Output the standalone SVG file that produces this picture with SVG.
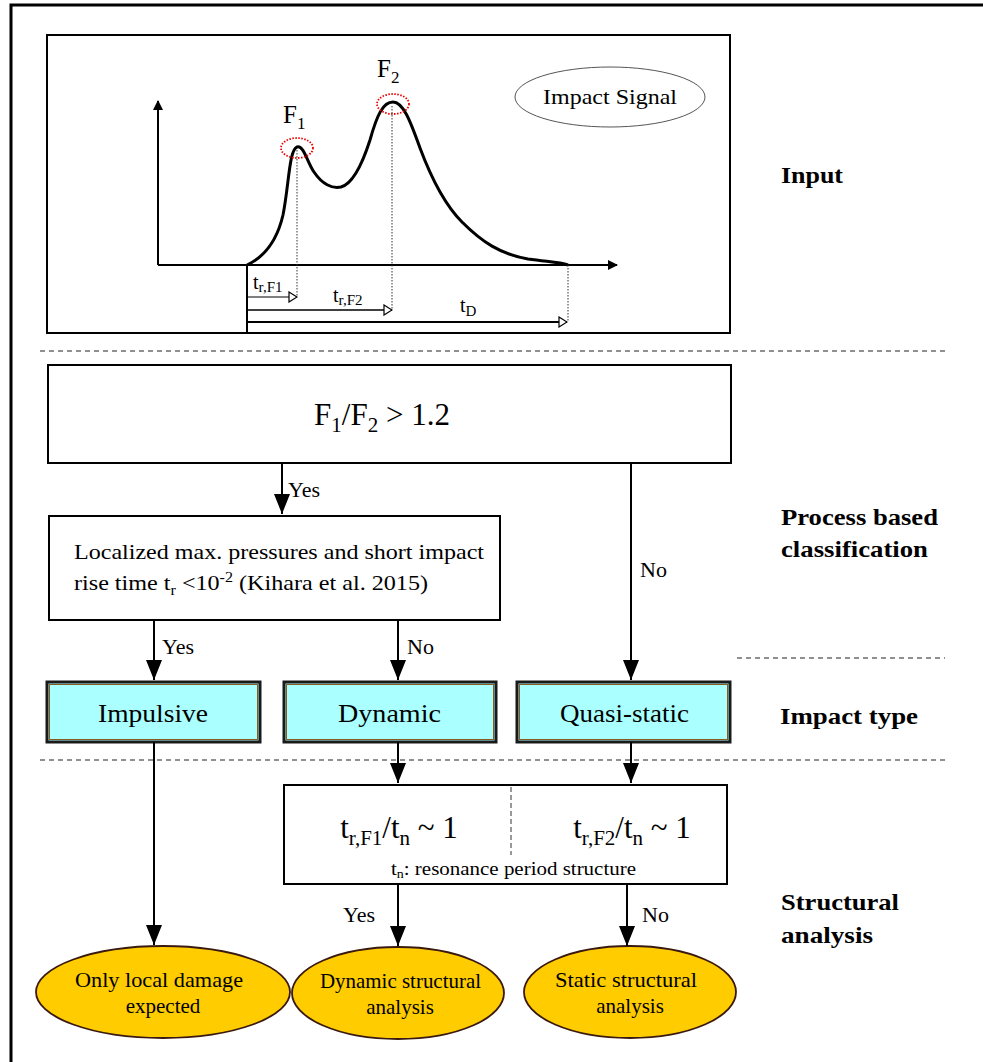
<svg xmlns="http://www.w3.org/2000/svg" width="983" height="1062" viewBox="0 0 983 1062" font-family="'Liberation Serif', 'Times New Roman', 'DejaVu Serif', serif">
<style>
text, tspan{font-family:'Liberation Serif', 'Times New Roman', 'DejaVu Serif', serif;fill:#000}
.box{fill:#fff;stroke:#000;stroke-width:2}
.type{fill:#aaffff;stroke:#1a1a1a;stroke-width:3}
.ell{fill:#ffcc00;stroke:#3a1a10;stroke-width:1.8}
.ln{stroke:#000;stroke-width:2;fill:none}
.dash{stroke:#222;stroke-width:1.2;stroke-dasharray:5,4;fill:none}
.dot{stroke:#333;stroke-width:1;stroke-dasharray:1.5,1.5;fill:none}
.lab{font-weight:bold;font-size:24px}
.yn{font-size:22px}
</style>
<defs>
<marker id="ah" markerWidth="10" markerHeight="10" refX="9" refY="5" orient="auto" markerUnits="userSpaceOnUse" viewBox="0 0 10 10"><path d="M0,0 L10,5 L0,10 z" fill="#000"/></marker>
<marker id="ahv" markerWidth="20" markerHeight="16" refX="20" refY="8" orient="auto" markerUnits="userSpaceOnUse" viewBox="0 0 20 16"><path d="M0,0 L20,8 L0,16 z" fill="#000"/></marker>
<marker id="hol" markerWidth="10" markerHeight="12" refX="9" refY="6" orient="auto" markerUnits="userSpaceOnUse" viewBox="0 0 10 12"><path d="M1,1 L9,6 L1,11 z" fill="#fff" stroke="#000" stroke-width="1.2"/></marker>
</defs>
<rect width="983" height="1062" fill="#fff"/>
<path d="M11,1062 V5 H983" fill="none" stroke="#000" stroke-width="3"/>

<g id="input">
<rect x="47" y="35" width="683" height="298" class="box"/>
<line x1="158" y1="265" x2="158" y2="101" class="ln" marker-end="url(#ah)"/>
<line x1="158" y1="265" x2="617" y2="265" class="ln" marker-end="url(#ah)"/>
<path d="M247,265 C262,258 276,245 283,215 C289,185 289,150 297,147 C304,145 307,162 314,172 C322,184 332,189 341,187 C352,184 362,165 370,140 C377,115 383,102 393,102 C403,102 410,120 420,148 C432,180 445,205 462,222 C482,242 500,254 528,259 C550,262 560,262 568,265" fill="none" stroke="#000" stroke-width="3"/>
<ellipse cx="297" cy="148" rx="16" ry="10" fill="none" stroke="#e00" stroke-width="1.8" stroke-dasharray="1.5,1.5"/>
<ellipse cx="393" cy="104" rx="16" ry="10" fill="none" stroke="#e00" stroke-width="1.8" stroke-dasharray="1.5,1.5"/>
<text x="283" y="123" font-size="25">F<tspan font-size="17" dy="6">1</tspan></text>
<text x="377" y="77" font-size="25">F<tspan font-size="17" dy="6">2</tspan></text>
<ellipse cx="610" cy="97" rx="95" ry="30" fill="#fff" stroke="#555" stroke-width="1"/>
<text x="543" y="104" font-size="22" textLength="134" lengthAdjust="spacingAndGlyphs">Impact Signal</text>
<line x1="297" y1="150" x2="297" y2="297" class="dot"/>
<line x1="392" y1="106" x2="392" y2="310" class="dot"/>
<line x1="568" y1="265" x2="568" y2="322" class="dot"/>
<line x1="247" y1="265" x2="247" y2="333" class="ln"/>
<line x1="247" y1="297" x2="297" y2="297" stroke="#000" stroke-width="1" marker-end="url(#hol)"/>
<line x1="247" y1="310" x2="392" y2="310" stroke="#000" stroke-width="1.3" marker-end="url(#hol)"/>
<line x1="247" y1="322" x2="567" y2="322" stroke="#000" stroke-width="2" marker-end="url(#hol)"/>
<text x="253" y="289" font-size="20">t<tspan font-size="15" dy="3">r,F1</tspan></text>
<text x="333" y="302" font-size="20">t<tspan font-size="15" dy="3">r,F2</tspan></text>
<text x="460" y="312" font-size="20">t<tspan font-size="15" dy="4">D</tspan></text>
</g>

<g id="separators">
<line x1="40" y1="351" x2="945" y2="351" class="dash"/>
<line x1="737" y1="658" x2="945" y2="658" class="dash"/>
<line x1="40" y1="760" x2="945" y2="760" class="dash"/>
</g>

<g id="ratio">
<rect x="48" y="365" width="683" height="98" class="box"/>
<text x="382" y="425" font-size="31" text-anchor="middle">F<tspan font-size="21" dy="7">1</tspan><tspan dy="-7">/F</tspan><tspan font-size="21" dy="7">2</tspan><tspan dy="-7"> &gt; 1.2</tspan></text>
</g>

<g id="localized">
<rect x="49" y="516" width="451" height="104" class="box"/>
<text x="74" y="559" font-size="21" textLength="410" lengthAdjust="spacingAndGlyphs">Localized max. pressures and short impact</text>
<text x="74" y="590" font-size="21" textLength="354" lengthAdjust="spacingAndGlyphs">rise time t<tspan font-size="14" dy="5">r</tspan><tspan dy="-5"> &lt;10</tspan><tspan font-size="14" dy="-8">-2</tspan><tspan dy="8"> (Kihara et al. 2015)</tspan></text>
</g>

<g id="impulsive">
<rect x="47" y="682" width="213" height="60" class="type"/>
<rect x="49.5" y="684.5" width="208" height="55" fill="none" stroke="#8a5a20" stroke-width="1"/>
<text x="98" y="722" font-size="25" textLength="110" lengthAdjust="spacingAndGlyphs">Impulsive</text>
</g>
<g id="dynamic">
<rect x="284" y="682" width="212" height="60" class="type"/>
<rect x="286.5" y="684.5" width="207" height="55" fill="none" stroke="#8a5a20" stroke-width="1"/>
<text x="338" y="722" font-size="25" textLength="103" lengthAdjust="spacingAndGlyphs">Dynamic</text>
</g>
<g id="quasistatic">
<rect x="517" y="682" width="213" height="60" class="type"/>
<rect x="519.5" y="684.5" width="208" height="55" fill="none" stroke="#8a5a20" stroke-width="1"/>
<text x="560" y="722" font-size="25" textLength="129" lengthAdjust="spacingAndGlyphs">Quasi-static</text>
</g>

<g id="resonance">
<rect x="284" y="785" width="443" height="99" class="box"/>
<line x1="511" y1="787" x2="511" y2="855" stroke="#333" stroke-width="1" stroke-dasharray="5,3"/>
<text x="399" y="838" font-size="31" text-anchor="middle">t<tspan font-size="21" dy="7">r,F1</tspan><tspan dy="-7">/t</tspan><tspan font-size="21" dy="7">n</tspan><tspan dy="-7"> ~ 1</tspan></text>
<text x="632" y="838" font-size="31" text-anchor="middle">t<tspan font-size="21" dy="7">r,F2</tspan><tspan dy="-7">/t</tspan><tspan font-size="21" dy="7">n</tspan><tspan dy="-7"> ~ 1</tspan></text>
<text x="391" y="875" font-size="18" textLength="245" lengthAdjust="spacingAndGlyphs">t<tspan font-size="12" dy="3">n</tspan><tspan dy="-3">: resonance period structure</tspan></text>
</g>

<g id="local">
<ellipse cx="163" cy="992" rx="127" ry="46" class="ell"/>
<text x="75" y="987" font-size="21" textLength="168" lengthAdjust="spacingAndGlyphs">Only local damage</text>
<text x="163" y="1013" font-size="21" text-anchor="middle">expected</text>
</g>
<g id="dynstruct">
<ellipse cx="398" cy="993" rx="106" ry="46" class="ell"/>
<text x="320" y="988" font-size="21" textLength="161" lengthAdjust="spacingAndGlyphs">Dynamic structural</text>
<text x="400" y="1014" font-size="21" text-anchor="middle">analysis</text>
</g>
<g id="statstruct">
<ellipse cx="630" cy="992" rx="106" ry="46" class="ell"/>
<text x="555" y="987" font-size="21" textLength="142" lengthAdjust="spacingAndGlyphs">Static structural</text>
<text x="630" y="1013" font-size="21" text-anchor="middle">analysis</text>
</g>

<g id="connectors">
<line x1="282" y1="463" x2="282" y2="514" class="ln" marker-end="url(#ahv)"/>
<text x="288" y="497" class="yn">Yes</text>
<line x1="631" y1="463" x2="631" y2="680" class="ln" marker-end="url(#ahv)"/>
<text x="640" y="577" class="yn">No</text>
<line x1="154" y1="620" x2="154" y2="680" class="ln" marker-end="url(#ahv)"/>
<text x="162" y="654" class="yn">Yes</text>
<line x1="398" y1="620" x2="398" y2="680" class="ln" marker-end="url(#ahv)"/>
<text x="407" y="654" class="yn">No</text>
<line x1="154" y1="742" x2="154" y2="945" class="ln" marker-end="url(#ahv)"/>
<line x1="398" y1="742" x2="398" y2="783" class="ln" marker-end="url(#ahv)"/>
<line x1="631" y1="742" x2="631" y2="783" class="ln" marker-end="url(#ahv)"/>
<line x1="398" y1="884" x2="398" y2="946" class="ln" marker-end="url(#ahv)"/>
<text x="343" y="922" class="yn">Yes</text>
<line x1="627" y1="884" x2="627" y2="946" class="ln" marker-end="url(#ahv)"/>
<text x="642" y="922" class="yn">No</text>
</g>

<g id="labels">
<text x="781" y="183" class="lab" textLength="62" lengthAdjust="spacingAndGlyphs">Input</text>
<text x="781" y="525" class="lab" textLength="157" lengthAdjust="spacingAndGlyphs">Process based</text>
<text x="781" y="557" class="lab" textLength="147" lengthAdjust="spacingAndGlyphs">classification</text>
<text x="780" y="724" class="lab" textLength="138" lengthAdjust="spacingAndGlyphs">Impact type</text>
<text x="781" y="910" class="lab" textLength="118" lengthAdjust="spacingAndGlyphs">Structural</text>
<text x="781" y="943" class="lab" textLength="92" lengthAdjust="spacingAndGlyphs">analysis</text>
</g>
</svg>
